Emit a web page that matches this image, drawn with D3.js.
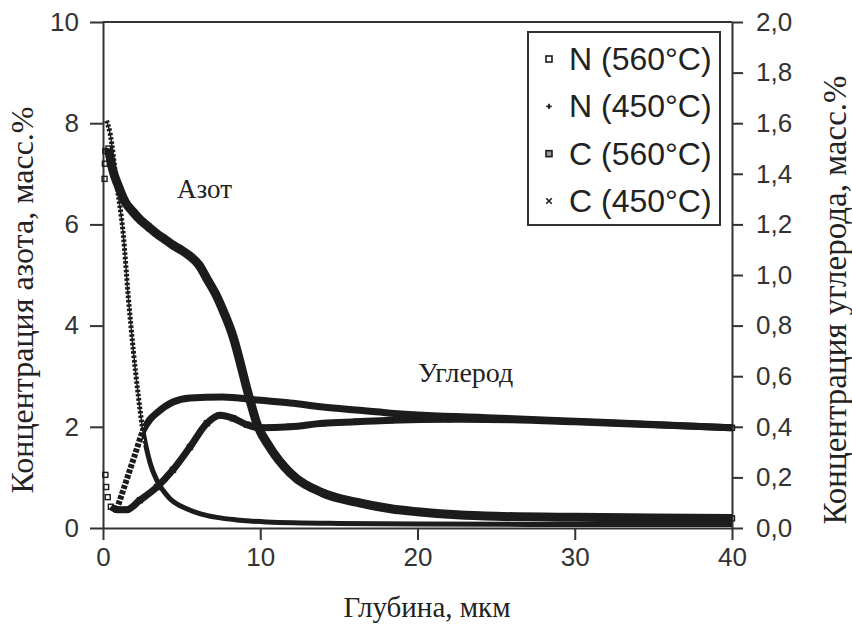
<!DOCTYPE html>
<html>
<head>
<meta charset="utf-8">
<script src="https://cdn.jsdelivr.net/npm/d3@7"></script>
<style>
  body { margin: 0; background: #fff; }
  .tick text { font-family: "Liberation Sans", Arial, sans-serif; font-size: 26px; fill: #333; }
  .tick line, .domain { stroke: #333; stroke-width: 2; }
  .serif { font-family: "Liberation Serif", "Times New Roman", serif; fill: #222; }
</style>
</head>
<body>
<svg width="852" height="625"></svg>
<script>
// depth, мкм
const depthN560 = [0.1, 0.12, 0.15, 0.35, 0.6, 1.0, 1.4, 1.9, 2.4, 2.9, 3.4, 4.0, 4.5, 5.0, 5.5, 6.1, 6.6, 7.2, 7.7, 8.2, 9.3, 9.8, 10.6, 11.9, 14.0, 16.1, 18.3, 20, 22.5, 25, 30, 35, 40];
const nitrogen560 = [6.9, 7.2, 7.45, 7.5, 7.1, 6.74, 6.45, 6.25, 6.08, 5.95, 5.82, 5.69, 5.58, 5.49, 5.38, 5.2, 4.93, 4.6, 4.25, 3.85, 2.58, 2.05, 1.6, 1.09, 0.69, 0.51, 0.38, 0.32, 0.26, 0.23, 0.21, 0.2, 0.19];

const depthN450 = [0.23, 0.45, 0.87, 1.29, 1.6, 1.93, 2.25, 2.5, 2.78, 3.0, 3.41, 3.8, 4.26, 5.32, 6.2, 7.23, 8.5, 10.4, 15, 20, 30, 40];
const nitrogen450 = [8.05, 7.8, 6.8, 5.8, 4.6, 3.5, 2.6, 2.0, 1.55, 1.28, 0.95, 0.75, 0.58, 0.38, 0.28, 0.21, 0.16, 0.12, 0.09, 0.08, 0.07, 0.07];

const depthC560 = [0.15, 0.2, 0.3, 0.5, 0.9, 1.5, 2.35, 3.43, 4.45, 5.53, 6.61, 7.44, 8.27, 9.16, 9.98, 11.9, 14.0, 16.1, 18.3, 22, 26, 30, 35, 40];
const carbon560 = [0.21, 0.162, 0.122, 0.084, 0.072, 0.072, 0.11, 0.162, 0.23, 0.32, 0.414, 0.446, 0.434, 0.408, 0.396, 0.4, 0.414, 0.42, 0.426, 0.43, 0.428, 0.42, 0.408, 0.396];

const depthC450 = [0.87, 1.5, 2.0, 2.57, 3.0, 3.41, 4.45, 5.53, 7.6, 9.8, 11.9, 14.0, 16.1, 18.3, 25.3, 31.7, 40];
const carbon450 = [0.072, 0.19, 0.284, 0.388, 0.43, 0.454, 0.498, 0.514, 0.518, 0.506, 0.494, 0.478, 0.466, 0.454, 0.434, 0.418, 0.396];

const depthTicks = [0, 10, 20, 30, 40];
const nitrogenTicks = [0, 2, 4, 6, 8, 10];
const carbonTicks = [0, 0.2, 0.4, 0.6, 0.8, 1.0, 1.2, 1.4, 1.6, 1.8, 2.0];
const legendNames = ["N (560°C)", "N (450°C)", "C (560°C)", "C (450°C)"];

const svg = d3.select("svg");

const x = d3.scaleLinear().domain([0, 40]).range([103, 732]);
const yN = d3.scaleLinear().domain([0, 10]).range([528, 22]);
const yC = d3.scaleLinear().domain([0, 2]).range([528, 22]);

// clips: sparse-marker part near the surface vs dense part
const defs = svg.append("defs");
defs.append("clipPath").attr("id", "near")
  .append("rect").attr("x", 0).attr("y", 0).attr("width", x(2.6)).attr("height", 625);
defs.append("clipPath").attr("id", "far")
  .append("rect").attr("x", x(2.6)).attr("y", 0).attr("width", 852).attr("height", 625);

// frame
svg.append("line").attr("x1", x(0)).attr("x2", x(40)).attr("y1", yN(10)).attr("y2", yN(10))
  .attr("stroke", "#333").attr("stroke-width", 2);

svg.append("g").attr("transform", `translate(${x(0)},0)`)
  .call(d3.axisLeft(yN).tickValues(nitrogenTicks).tickSize(13).tickSizeOuter(0).tickPadding(11).tickFormat(d3.format("d")));

svg.append("g").attr("transform", `translate(${x(40)},0)`)
  .call(d3.axisRight(yC).tickValues(carbonTicks).tickSize(11).tickSizeOuter(0).tickPadding(13)
    .tickFormat(d => d3.format(".1f")(d).replace(".", ",")));

svg.append("g").attr("transform", `translate(0,${yN(0)})`)
  .call(d3.axisBottom(x).tickValues(depthTicks).tickSize(12).tickSizeOuter(0).tickPadding(8).tickFormat(d3.format("d")));

const ink = "#1c1c1c";

function curve(depths, values, yScale, startDepth) {
  return d3.line()
    .defined((d, i) => depths[i] >= startDepth)
    .x((d, i) => x(depths[i]))
    .y(d => yScale(d))
    .curve(d3.curveMonotoneX)(values);
}

// N (560°C)
svg.append("path").attr("d", curve(depthN560, nitrogen560, yN, 0.3))
  .attr("fill", "none").attr("stroke", ink).attr("stroke-width", 9);
svg.append("g").selectAll("rect").data(nitrogen560).join("rect")
  .attr("x", (d, i) => x(depthN560[i]) - 2.5).attr("y", d => yN(d) - 2.5)
  .attr("width", 5).attr("height", 5)
  .attr("fill", "none").attr("stroke", ink).attr("stroke-width", 1.4);

// N (450°C)
const n450 = curve(depthN450, nitrogen450, yN, 0);
svg.append("path").attr("d", n450).attr("clip-path", "url(#near)")
  .attr("fill", "none").attr("stroke", ink).attr("stroke-width", 5).attr("stroke-dasharray", "2.5 1.8");
svg.append("path").attr("d", n450).attr("clip-path", "url(#near)")
  .attr("fill", "none").attr("stroke", ink).attr("stroke-width", 1.5);
svg.append("path").attr("d", n450).attr("clip-path", "url(#far)")
  .attr("fill", "none").attr("stroke", ink).attr("stroke-width", 5);

// C (560°C)
svg.append("path").attr("d", curve(depthC560, carbon560, yC, 0.45))
  .attr("fill", "none").attr("stroke", ink).attr("stroke-width", 7);
svg.append("g").selectAll("rect").data(carbon560).join("rect")
  .attr("x", (d, i) => x(depthC560[i]) - 2.5).attr("y", d => yC(d) - 2.5)
  .attr("width", 5).attr("height", 5)
  .attr("fill", "none").attr("stroke", ink).attr("stroke-width", 1.4);

// C (450°C)
const c450 = curve(depthC450, carbon450, yC, 0);
svg.append("path").attr("d", c450).attr("clip-path", "url(#near)")
  .attr("fill", "none").attr("stroke", ink).attr("stroke-width", 6).attr("stroke-dasharray", "4 1.5");
svg.append("path").attr("d", c450).attr("clip-path", "url(#far)")
  .attr("fill", "none").attr("stroke", ink).attr("stroke-width", 7);

// labels inside the plot
svg.append("text").attr("class", "serif").attr("x", 177).attr("y", 198)
  .style("font-size", "27px").text("Азот");
svg.append("text").attr("class", "serif").attr("x", 418).attr("y", 382)
  .style("font-size", "28px").text("Углерод");

// axis titles
svg.append("text").attr("class", "serif")
  .attr("transform", "translate(33,300) rotate(-90)")
  .attr("text-anchor", "middle").style("font-size", "32px")
  .text("Концентрация азота, масс.%");
svg.append("text").attr("class", "serif")
  .attr("transform", "translate(846,300) rotate(-90)")
  .attr("text-anchor", "middle").style("font-size", "33px")
  .text("Концентрация углерода, масс.%");
svg.append("text").attr("class", "serif")
  .attr("x", 427).attr("y", 617)
  .attr("text-anchor", "middle").style("font-size", "29px")
  .text("Глубина, мкм");

// legend
const legend = svg.append("g");
legend.append("rect").attr("x", 528).attr("y", 32).attr("width", 192).attr("height", 193)
  .attr("fill", "#fff").attr("stroke", "#333").attr("stroke-width", 2);

const rowY = d3.scalePoint().domain(legendNames).range([70, 212]);
const symbols = [
  g => g.append("rect").attr("x", -3).attr("y", -3).attr("width", 6).attr("height", 6)
        .attr("fill", "#fff").attr("stroke", ink).attr("stroke-width", 1.6),
  g => g.append("path").attr("d", d3.symbol(d3.symbolCross, 16)()).attr("fill", ink),
  g => g.append("rect").attr("x", -3).attr("y", -3).attr("width", 6).attr("height", 6)
        .attr("fill", "#999").attr("stroke", ink).attr("stroke-width", 1.6),
  g => g.append("path").attr("d", d3.symbol(d3.symbolX, 22)()).attr("stroke", ink).attr("stroke-width", 1.6)
];
legendNames.forEach((name, i) => {
  const row = legend.append("g").attr("transform", `translate(0,${rowY(name)})`);
  symbols[i](row.append("g").attr("transform", "translate(549,-11)"));
  row.append("text").attr("x", 569).attr("y", 0)
    .style("font-family", "'Liberation Sans', Arial, sans-serif").style("font-size", "32px").style("fill", "#222")
    .text(name);
});
</script>
</body>
</html>
